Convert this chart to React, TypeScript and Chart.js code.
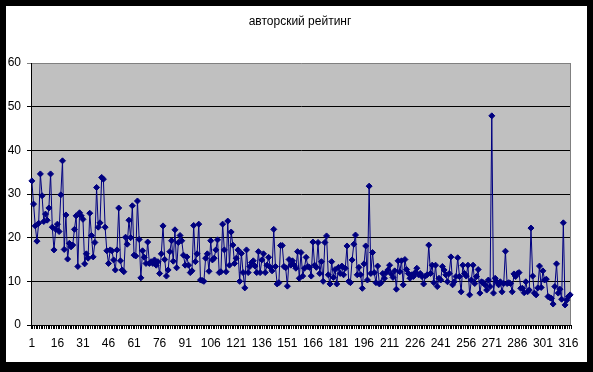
import React, { useEffect, useRef } from "react";
import { Chart, registerables } from "chart.js";

Chart.register(...registerables);

const chartTitle = "авторский рейтинг";

const ratingPart1 = [
  33, 27.7, 22.7, 19.2, 23.3, 34.6, 29.6, 23.7, 25.4, 24,
  26.8, 34.6, 22.4, 17.2, 21.9, 23.1, 21.4, 29.8, 37.6, 17.3,
  25.2, 15.1, 18.7, 17.9, 18.3, 21.9, 25, 13.4, 25.7, 25,
  24.2, 14, 16.3, 15.3, 25.6, 20.5, 15.6, 18.9, 31.5, 22.4,
  23.4, 33.8, 33.4, 22.4, 17, 14.1, 17.2, 17, 14.9, 12.6,
  17.2, 26.8, 14.7, 12.6, 12.2, 20.1, 18.5, 24, 20, 27.3,
  16, 15.8, 28.4, 19.6, 10.8, 17, 15.5, 14.1, 19, 14.1,
  14.5, 14.1, 14.9, 13.7, 14.5, 11.8, 16.3, 22.7,
];

const ratingPart2 = [
  15, 11.2, 12.6, 16.8, 19.3, 14.6, 21.8, 13.1, 18.9, 20.5,
  19.3, 16, 13.7, 15.6, 13.7, 12, 12.4, 22.8, 14.5, 16.3,
  23.1, 10.3, 10.2, 10, 15.3, 16.3, 12.3, 19.3, 14.9, 15.3,
  17.2, 19.5, 12, 12.2, 23.1, 17.2, 12.2, 23.8, 13.7, 21.3,
  18.3, 14.1, 15.3, 17.2, 10, 16.4, 12, 8.5, 17.2, 12,
  13.4, 14.3, 14.7, 13.5, 12, 16.8, 12, 14.9, 16.3, 12,
  13.7, 15.5, 13.2, 12.4, 21.9, 13.4, 9.4, 9.7, 18.2, 18.2,
  13.4, 13.1, 8.9, 15, 13.7, 14.7, 13.7, 13, 16.8, 10.7,
];

const ratingPart3 = [
  16.6, 11.2, 13, 15.5, 13.4, 13.2, 11.2, 19, 13.7, 13.2,
  18.9, 11.8, 14.5, 10, 18.9, 20.4, 11.5, 9.4, 14.5, 10.9,
  12.7, 9.4, 13.2, 11.8, 13.5, 11.5, 13, 18.1, 10, 9.7,
  14.9, 18.5, 20.6, 11.5, 13.2, 11.5, 8.4, 14, 18.1, 10.3,
  31.8, 11.8, 16.6, 12, 9.7, 13.5, 9.4, 9.7, 11.8, 10.7,
  12, 12.6, 13.7, 11.7, 10.9, 12.4, 8.2, 14.7, 12.2, 14.7,
  9.2, 15, 12.7, 11.8, 10.7, 11.5, 11.1, 12, 13, 11.5,
  11.8, 11.1, 9.4, 11.2, 11.5, 18.3, 11.8, 13.7, 9.7,
];

const ratingPart4 = [
  13.7, 8.8, 10.7, 10.3, 13.4, 12.6, 11.5, 9.9, 11.8, 15.6,
  9.2, 9.9, 11.1, 15.4, 11.1, 7.6, 13.7, 11.8, 11.2, 13.7,
  6.9, 10.3, 13.7, 9.5, 11.1, 12.7, 7.3, 9.9, 9.7, 9.2,
  8, 10.3, 8.8,
];

const ratingPart5 = [
  47.9,
  7.3, 10.7, 9.9, 9.2, 9.9, 7.6, 9.5, 16.9, 9.5, 9.7,
  9.5, 7.6, 11.7, 11.1, 11.8, 12, 8.4, 8.4, 7.4, 9.9,
  7.6, 8, 22.2, 11.2, 7.3, 6.9, 8.5, 13.5, 8.6, 12.4,
  10.3, 10.5, 6.5, 6.3, 6.1, 4.8, 8.8, 14, 7.3, 8.2,
  5.9, 23.4, 4.6, 5.7, 6.5, 6.9,
];

const rating = [...ratingPart1, ...ratingPart2, ...ratingPart3, ...ratingPart4, ...ratingPart5];
const categories = rating.map((_, i) => String(i + 1));
const labelEvery = 15;
const yMin = 0;
const yMax = 60;
const yStep = 10;

const FONT = "'Liberation Sans', Arial, sans-serif";

const framePlugin = {
  id: "frame",
  beforeDraw(chart: any) {
    const { ctx, chartArea: a, width, height } = chart;
    ctx.save();
    ctx.fillStyle = "#000";
    ctx.fillRect(0, 0, width, height);
    ctx.fillStyle = "#fff";
    ctx.fillRect(6, 6, 581, 356);
    ctx.fillStyle = "#c0c0c0";
    ctx.fillRect(a.left, a.top, a.right - a.left, a.bottom - a.top);
    ctx.fillStyle = "#000";
    ctx.font = `12px ${FONT}`;
    ctx.textAlign = "center";
    ctx.textBaseline = "alphabetic";
    ctx.fillText(chartTitle, 300, 25);
    ctx.restore();
  },
  beforeDatasetsDraw(chart: any) {
    const { ctx, chartArea: a } = chart;
    ctx.save();
    ctx.strokeStyle = "#808080";
    ctx.lineWidth = 1;
    ctx.beginPath();
    ctx.moveTo(Math.round(a.right) - 0.5, a.top);
    ctx.lineTo(Math.round(a.right) - 0.5, a.bottom);
    ctx.stroke();
    ctx.restore();
  },
};

export default function App() {
  const ref = useRef<HTMLCanvasElement | null>(null);
  useEffect(() => {
    document.body.style.margin = "0";
    const canvas = ref.current;
    if (!canvas) return;
    const chart = new Chart(canvas, {
      type: "line",
      data: {
        labels: categories,
        datasets: [
          {
            data: rating,
            borderColor: "#000080",
            borderWidth: 1,
            tension: 0,
            pointStyle: "rectRot",
            pointRadius: 3,
            pointBorderWidth: 1,
            pointBackgroundColor: "#000080",
            pointBorderColor: "#000080",
          },
        ],
      },
      options: {
        animation: false,
        responsive: false,
        devicePixelRatio: 1,
        layout: { padding: { top: 63, right: 22, left: 0, bottom: 0 } },
        plugins: { legend: { display: false }, tooltip: { enabled: false }, title: { display: false } },
        scales: {
          x: {
            type: "category",
            offset: true,
            afterFit: (s: any) => {
              s.height = 47;
            },
            grid: {
              offset: true,
              drawOnChartArea: false,
              drawTicks: true,
              tickLength: 4,
              color: "#000",
            },
            border: { display: true, color: "#000", width: 1 },
            ticks: {
              autoSkip: false,
              maxRotation: 0,
              minRotation: 0,
              padding: 7,
              color: "#000",
              font: { family: FONT, size: 12 },
              callback: (_v: any, i: number) => (i % labelEvery === 0 ? categories[i] : ""),
            },
          },
          y: {
            min: yMin,
            max: yMax,
            afterFit: (s: any) => {
              s.width = 31;
            },
            grid: {
              color: (c: any) => (c.tick && c.tick.value === yMax ? "#808080" : "#000"),
              tickLength: 4,
              drawTicks: true,
            },
            border: { display: true, color: "#000", width: 1 },
            ticks: {
              stepSize: yStep,
              padding: 6,
              color: "#000",
              font: { family: FONT, size: 12 },
            },
          },
        },
      },
      plugins: [framePlugin],
    });
    return () => chart.destroy();
  }, []);
  return (
    <div style={{ width: 593, height: 372 }}>
      <canvas ref={ref} width={593} height={372} style={{ display: "block" }} />
    </div>
  );
}
